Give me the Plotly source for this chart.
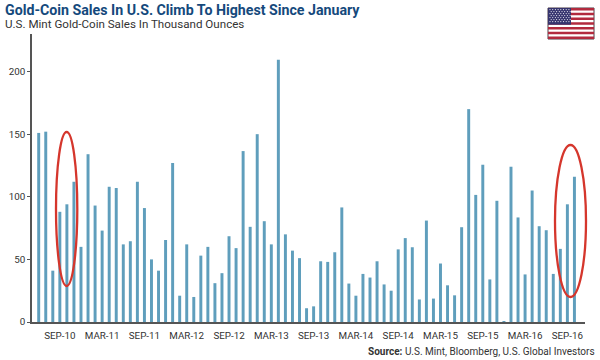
import plotly.graph_objects as go

# Monthly, Jun-10 .. Oct-16
month_index = list(range(77))
sales = [151, 152, 41, 88, 94, 112, 60, 134, 93, 73, 108, 107, 62, 64.5, 112, 91, 50, 41, 65.5, 127,
         21, 62, 20, 53, 60, 31, 39, 68.5, 59, 136.5, 76, 150, 80.5, 62, 209.5, 70, 57, 51,
         11, 12.5, 48.5, 48, 55.7, 91.5, 30.7, 21, 38.4, 35.5, 48.5, 30, 25, 58, 67, 59.7, 18,
         81, 18.7, 46.7, 29.3, 21.3, 75.7, 170, 101.5, 125.6, 34, 96.8, 0.2, 124, 83.5, 38,
         105, 76.5, 73.3, 38.4, 58.4, 94, 116]
tick_positions = [3, 9, 15, 21, 27, 33, 39, 45, 51, 57, 63, 69, 75]
tick_labels = ["SEP-10", "MAR-11", "SEP-11", "MAR-12", "SEP-12", "MAR-13", "SEP-13",
               "MAR-14", "SEP-14", "MAR-15", "SEP-15", "MAR-16", "SEP-16"]
y_ticks = [0, 50, 100, 150, 200]

TITLE = "Gold-Coin Sales In U.S. Climb To Highest Since January"
SUBTITLE = "U.S. Mint Gold-Coin Sales In Thousand Ounces"
SOURCE = "<b>Source:</b> U.S. Mint, Bloomberg, U.S. Global Investors"

W, H = 600, 360
ML, MR, MT, MB = 32, 15, 34, 38
PW, PH = W - ML - MR, H - MT - MB


def px(x):
    return (x - ML) / PW


def py(y):
    return 1 - (y - MT) / PH


fig = go.Figure(go.Bar(x=month_index, y=sales, marker=dict(color="#5f9ebc", line_width=0),
                       width=0.42, hoverinfo="skip"))

shapes = []
# highlight ellipses
for x0, x1, y0, y1 in [(56, 77.3, 132, 286), (555, 586, 145, 297)]:
    shapes.append(dict(type="circle", xref="paper", yref="paper", x0=px(x0), x1=px(x1), y0=py(y1), y1=py(y0),
                       line=dict(color="#d5362c", width=2.3), layer="above"))

# flag
FX0, FX1, FY0, FY1 = 548, 594, 8, 39
shapes.append(dict(type="rect", xref="paper", yref="paper", x0=px(FX0), x1=px(FX1), y0=py(FY1), y1=py(FY0),
                   fillcolor="#ffffff", line=dict(color="#4a3a44", width=1), layer="above"))
sh = (FY1 - FY0) / 13
for i in range(0, 13, 2):
    shapes.append(dict(type="rect", xref="paper", yref="paper", x0=px(FX0), x1=px(FX1),
                       y0=py(FY0 + (i + 1) * sh), y1=py(FY0 + i * sh), fillcolor="#b22a3e", line_width=0, layer="above"))
cw = 23
shapes.append(dict(type="rect", xref="paper", yref="paper", x0=px(FX0), x1=px(FX0 + cw),
                   y0=py(FY0 + 7 * sh), y1=py(FY0), fillcolor="#36346e", line_width=0, layer="above"))
for r in range(7):
    for c in range(8):
        cx = FX0 + 2 + c * 2.7 + (r % 2) * 1.2
        cy = FY0 + 1.6 + r * 2.0
        if cx < FX0 + cw - 0.8:
            shapes.append(dict(type="circle", xref="paper", yref="paper", x0=px(cx - 0.6), x1=px(cx + 0.6),
                               y0=py(cy + 0.6), y1=py(cy - 0.6), fillcolor="#e8e8f0", line_width=0, layer="above"))

annotations = [
    dict(text=TITLE, x=px(2.5), y=py(9.5), xref="paper", yref="paper", xanchor="left", yanchor="middle",
         showarrow=False, font=dict(family="Roboto", size=14.2, color="#14497c", weight="bold")),
    dict(text=SUBTITLE, x=px(2.5), y=py(24), xref="paper", yref="paper", xanchor="left", yanchor="middle",
         showarrow=False, font=dict(family="Roboto", size=11.6, color="#333333")),
    dict(text=SOURCE, x=px(597), y=py(351), xref="paper", yref="paper", xanchor="right", yanchor="middle",
         showarrow=False, font=dict(family="Roboto", size=10, color="#333333")),
]

fig.update_layout(
    width=W, height=H, autosize=False, margin=dict(l=ML, r=MR, t=MT, b=MB, pad=0),
    plot_bgcolor="white", paper_bgcolor="white", showlegend=False,
    shapes=shapes, annotations=annotations,
    xaxis=dict(automargin=False, range=[-0.95, 77.5], tickvals=tick_positions, ticktext=tick_labels, showgrid=False,
               zeroline=False, showline=True, linecolor="#555555", linewidth=1.5, ticks="", tickangle=0,
               ticklabelstandoff=3, tickfont=dict(family="Roboto", size=9.8, color="#333333")),
    yaxis=dict(automargin=False, range=[0, 230], tickvals=y_ticks, showgrid=False, zeroline=False, showline=True,
               linecolor="#555555", linewidth=1.5, ticks="outside", ticklen=3, tickcolor="#555555", tickwidth=1,
               tickfont=dict(family="Roboto", size=9.8, color="#333333")),
)

fig.write_html("out.html", config=dict(displayModeBar=False),
               post_script="document.body.style.margin='0';")
